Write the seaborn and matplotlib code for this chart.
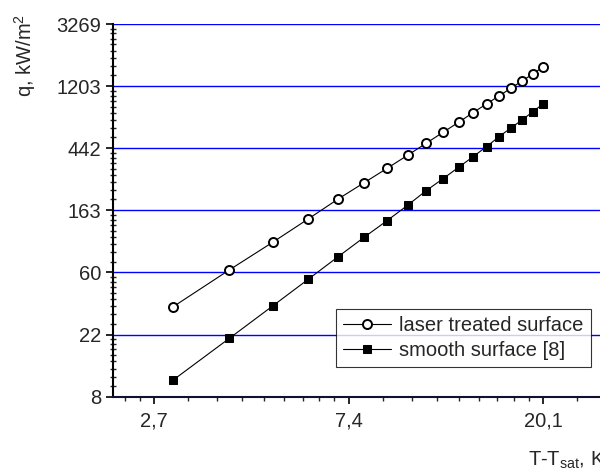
import numpy as np
import pandas as pd
import seaborn as sns
import matplotlib.pyplot as plt
from matplotlib.ticker import NullFormatter

# wall superheat, K
dT = [3, 4, 5, 6, 7, 8, 9, 10, 11, 12, 13, 14, 15, 16, 17, 18, 19, 20]
# heat flux, kW/m2
q_laser = [34.5, 62.3, 97.3, 141.6, 195.4, 254, 320, 395, 479, 572,
           672, 785, 903, 1027, 1162, 1307, 1456, 1630]
q_smooth = [10.6, 20.7, 34.9, 53.6, 77.2, 105.5, 137.9, 176.6, 223.4, 271,
            325.7, 386, 453.8, 533, 613, 697, 794, 898]

x_ticks = [np.e ** 1, np.e ** 2, np.e ** 3]
x_labels = ['2,7', '7,4', '20,1']
y_ticks = [8.103 * np.e ** k for k in range(7)]
y_labels = ['8', '22', '60', '163', '442', '1203', '3269']

sns.set_theme(style='ticks')
plt.rcParams['font.family'] = ['Liberation Sans', 'DejaVu Sans']
plt.rcParams['mathtext.fontset'] = 'custom'
plt.rcParams['mathtext.rm'] = 'Liberation Sans'
plt.rcParams['mathtext.it'] = 'Liberation Sans'

df = pd.DataFrame({'dT': dT, 'laser': q_laser, 'smooth': q_smooth})

fig = plt.figure(figsize=(6, 4.71), dpi=100)
ax = fig.add_axes([113 / 600, 74.3 / 471, 487 / 600, 372.7 / 471])

sns.lineplot(data=df, x='dT', y='laser', ax=ax, color='black', lw=0.8,
             marker='o', markersize=6.5, markerfacecolor='white',
             markeredgecolor='black', markeredgewidth=1.4,
             label='laser treated surface')
sns.lineplot(data=df, x='dT', y='smooth', ax=ax, color='black', lw=0.8,
             marker='s', markersize=6, markerfacecolor='black',
             markeredgecolor='black', label='smooth surface [8]')

ax.set_xscale('log', base=np.e)
ax.set_yscale('log', base=np.e)
ax.set_xlim(2.202, 26.87)
ax.set_ylim(y_ticks[0], y_ticks[-1])

ax.set_xticks(x_ticks)
ax.set_xticklabels(x_labels)
ax.set_yticks(y_ticks)
ax.set_yticklabels(y_labels)

# origin-style minor ticks: 8 linear steps between major ticks
def minor_ticks(majors, lo, hi):
    out = []
    for a, b in zip(majors[:-1], majors[1:]):
        step = (b - a) / 9
        out += [a + step * i for i in range(1, 9)]
    return [m for m in out if lo < m < hi]

xm = [1.0] + x_ticks + [np.e ** 4]
ax.set_xticks(minor_ticks(xm, 2.202, 26.87), minor=True)
ax.set_yticks(minor_ticks(y_ticks, y_ticks[0], y_ticks[-1]), minor=True)
ax.xaxis.set_minor_formatter(NullFormatter())
ax.yaxis.set_minor_formatter(NullFormatter())

ax.tick_params(axis='both', which='major', labelsize=14.5, length=5,
               width=1.2, direction='out', color='black')
ax.tick_params(axis='x', which='minor', length=3, width=1.0, direction='out')
ax.tick_params(axis='y', which='minor', length=4, width=1.0, direction='inout')
ax.tick_params(axis='x', which='major', pad=6)

ax.set_xlabel('')
ax.set_ylabel('')
ax.grid(False)
ax.yaxis.grid(True, which='major', color='#0000ff', lw=1.0)
ax.set_axisbelow(True)

for s in ['top', 'right']:
    ax.spines[s].set_visible(False)
ax.spines['left'].set_linewidth(1.5)
ax.spines['left'].set_color('black')
ax.spines['bottom'].set_linewidth(1.5)
ax.spines['bottom'].set_color('#101030')

leg = ax.legend(loc='upper left', bbox_to_anchor=(335.7 / 600, 1 - 309 / 471),
                bbox_transform=fig.transFigure, fontsize=14.5, frameon=True,
                fancybox=False, handlelength=2.4, handletextpad=0.4,
                borderpad=0.35, labelspacing=0.3, borderaxespad=0)
leg.get_frame().set_edgecolor('black')
leg.get_frame().set_linewidth(0.8)

fig.text(25 / 600, 1 - 55 / 471, 'q, kW/m$^2$', rotation=90, ha='center',
         va='center', fontsize=14.5)
fig.text(528 / 600, 5 / 471, 'T-T$_{sat}$, K', ha='left', va='baseline',
         fontsize=14.5)

fig.savefig('out.png', dpi=100)
